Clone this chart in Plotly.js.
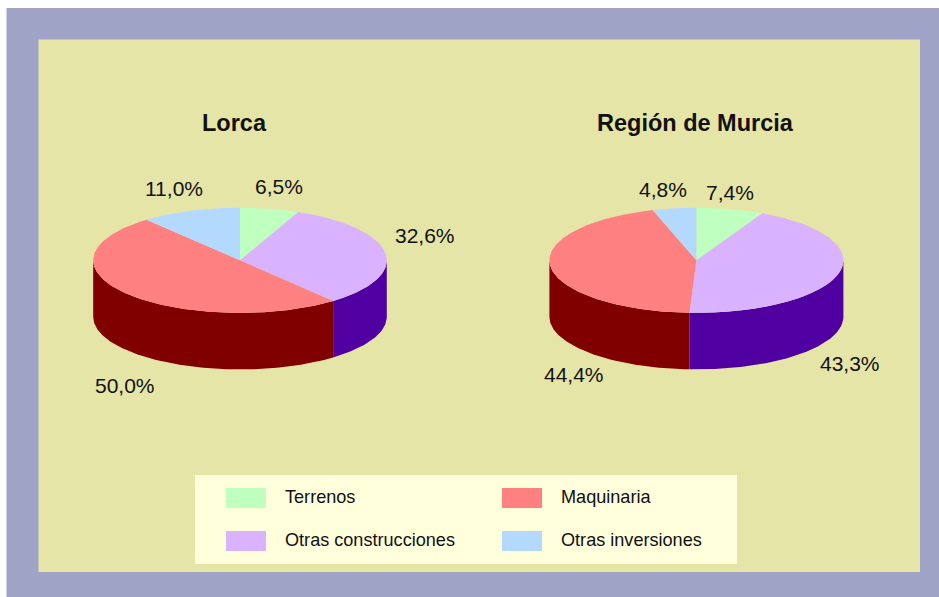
<!DOCTYPE html>
<html>
<head>
<meta charset="utf-8">
<script src="https://cdn.plot.ly/plotly-3.0.1.min.js"></script>
<style>html,body{margin:0;padding:0;background:#fff;overflow:hidden}#chart{width:939px;height:597px}</style>
</head>
<body>
<div id="chart"></div>
<script>
// Data
var categories = ["Terrenos", "Otras construcciones", "Maquinaria", "Otras inversiones"];
var lorcaValues = [6.5, 32.6, 50.0, 11.0];
var murciaValues = [7.4, 43.3, 44.4, 4.8];
var pieTitles = ["Lorca", "Región de Murcia"];

// Styles
var topColors = ["#BFFFBF", "#D9B3FF", "#FF8080", "#B3D9FF"];
var wallColors = ["#60A060", "#5000A0", "#800000", "#4070A0"];
var FONT = "Liberation Sans, Arial, sans-serif";
var INK = "#111111";

// Placement (page pixel space of the axes)
var pieGeom = [{cx: 240, cy: 260.3, rx: 146.8, ry: 52.6, depth: 56.5},
               {cx: 696.4, cy: 260.3, rx: 147, ry: 52.6, depth: 56.5}];
var titlePlace = [[234, 123], [695, 123]];
var labelPlace = [
  [[278.5, 186], [425, 235], [125, 385], [174, 188]],
  [[730, 192.5], [850, 363], [573.5, 374], [662.5, 189.5]]
];
var legendOrder = [0, 2, 1, 3];
var legendCols = [226, 502], legendRows = [488, 531];

function pct(v) { return v.toFixed(1).replace(".", ",") + "%"; }
function range(a, b) {           // degrees clockwise from 12 o'clock, inclusive
  var out = [], n = Math.max(2, Math.ceil(Math.abs(b - a)) + 1);
  for (var i = 0; i < n; i++) out.push(a + (b - a) * i / (n - 1));
  return out;
}
function px(g, d) { return g.cx + g.rx * Math.sin(d * Math.PI / 180); }
function py(g, d, off) { return g.cy - g.ry * Math.cos(d * Math.PI / 180) + (off || 0); }

function pieTraces(values, g) {
  var walls = [], tops = [], start = 0, total = values.reduce(function (s, v) { return s + v; }, 0);
  values.forEach(function (v, i) {
    var a0 = start, a1 = start + v / total * 360;
    start = a1;
    var w0 = Math.max(a0, 90), w1 = Math.min(a1, 270);
    if (w1 > w0) {
      var arc = range(w0, w1), back = arc.slice().reverse();
      walls.push({
        type: "scatter", mode: "lines", fill: "toself", fillcolor: wallColors[i],
        line: {width: 0, color: wallColors[i]}, hoverinfo: "skip", showlegend: false,
        x: arc.map(function (d) { return px(g, d); }).concat(back.map(function (d) { return px(g, d); })),
        y: arc.map(function (d) { return py(g, d); }).concat(back.map(function (d) { return py(g, d, g.depth); }))
      });
    }
    var ang = range(a0, a1);
    tops.push({
      type: "scatter", mode: "lines", fill: "toself", fillcolor: topColors[i], name: categories[i],
      line: {width: 0, color: topColors[i]}, hoverinfo: "skip", showlegend: false,
      x: [g.cx].concat(ang.map(function (d) { return px(g, d); })).concat([g.cx]),
      y: [g.cy].concat(ang.map(function (d) { return py(g, d); })).concat([g.cy])
    });
  });
  return walls.concat(tops);
}

var traces = pieTraces(lorcaValues, pieGeom[0]).concat(pieTraces(murciaValues, pieGeom[1]));

function rect(x0, y0, x1, y1, c) {
  return {type: "rect", xref: "x", yref: "y", x0: x0, y0: y0, x1: x1, y1: y1,
          fillcolor: c, line: {width: 0}, layer: "below"};
}
var shapes = [
  rect(6.5, 8, 939, 597, "#9FA4C6"),
  rect(38.5, 39.5, 920, 572, "#E5E5A8"),
  rect(195, 475, 737, 564, "#FFFFDC")
];
var annotations = [];
function note(x, y, text, size, bold, anchor) {
  annotations.push({xref: "x", yref: "y", x: x, y: y, text: bold ? "<b>" + text + "</b>" : text,
    showarrow: false, xanchor: anchor || "center", yanchor: "middle",
    font: {family: FONT, size: size, color: INK}});
}
pieTitles.forEach(function (t, i) { note(titlePlace[i][0], titlePlace[i][1], t, 23.5, true); });
[lorcaValues, murciaValues].forEach(function (vals, p) {
  vals.forEach(function (v, i) { note(labelPlace[p][i][0], labelPlace[p][i][1], pct(v), 21); });
});
legendOrder.forEach(function (c, k) {
  var x = legendCols[k % 2], y = legendRows[Math.floor(k / 2)];
  shapes.push(rect(x, y, x + 40, y + 20, topColors[c]));
  note(x + 57, y + 8.5, categories[c], 18.1, false, "left");
});

Plotly.newPlot("chart", traces, {
  width: 939, height: 597,
  margin: {l: 0, r: 0, t: 0, b: 0, pad: 0},
  paper_bgcolor: "#FFFFFF", plot_bgcolor: "rgba(0,0,0,0)",
  showlegend: false, hovermode: false,
  xaxis: {range: [0, 939], visible: false, fixedrange: true},
  yaxis: {range: [597, 0], visible: false, fixedrange: true},
  shapes: shapes, annotations: annotations
}, {displayModeBar: false, staticPlot: true});
</script>
</body>
</html>
